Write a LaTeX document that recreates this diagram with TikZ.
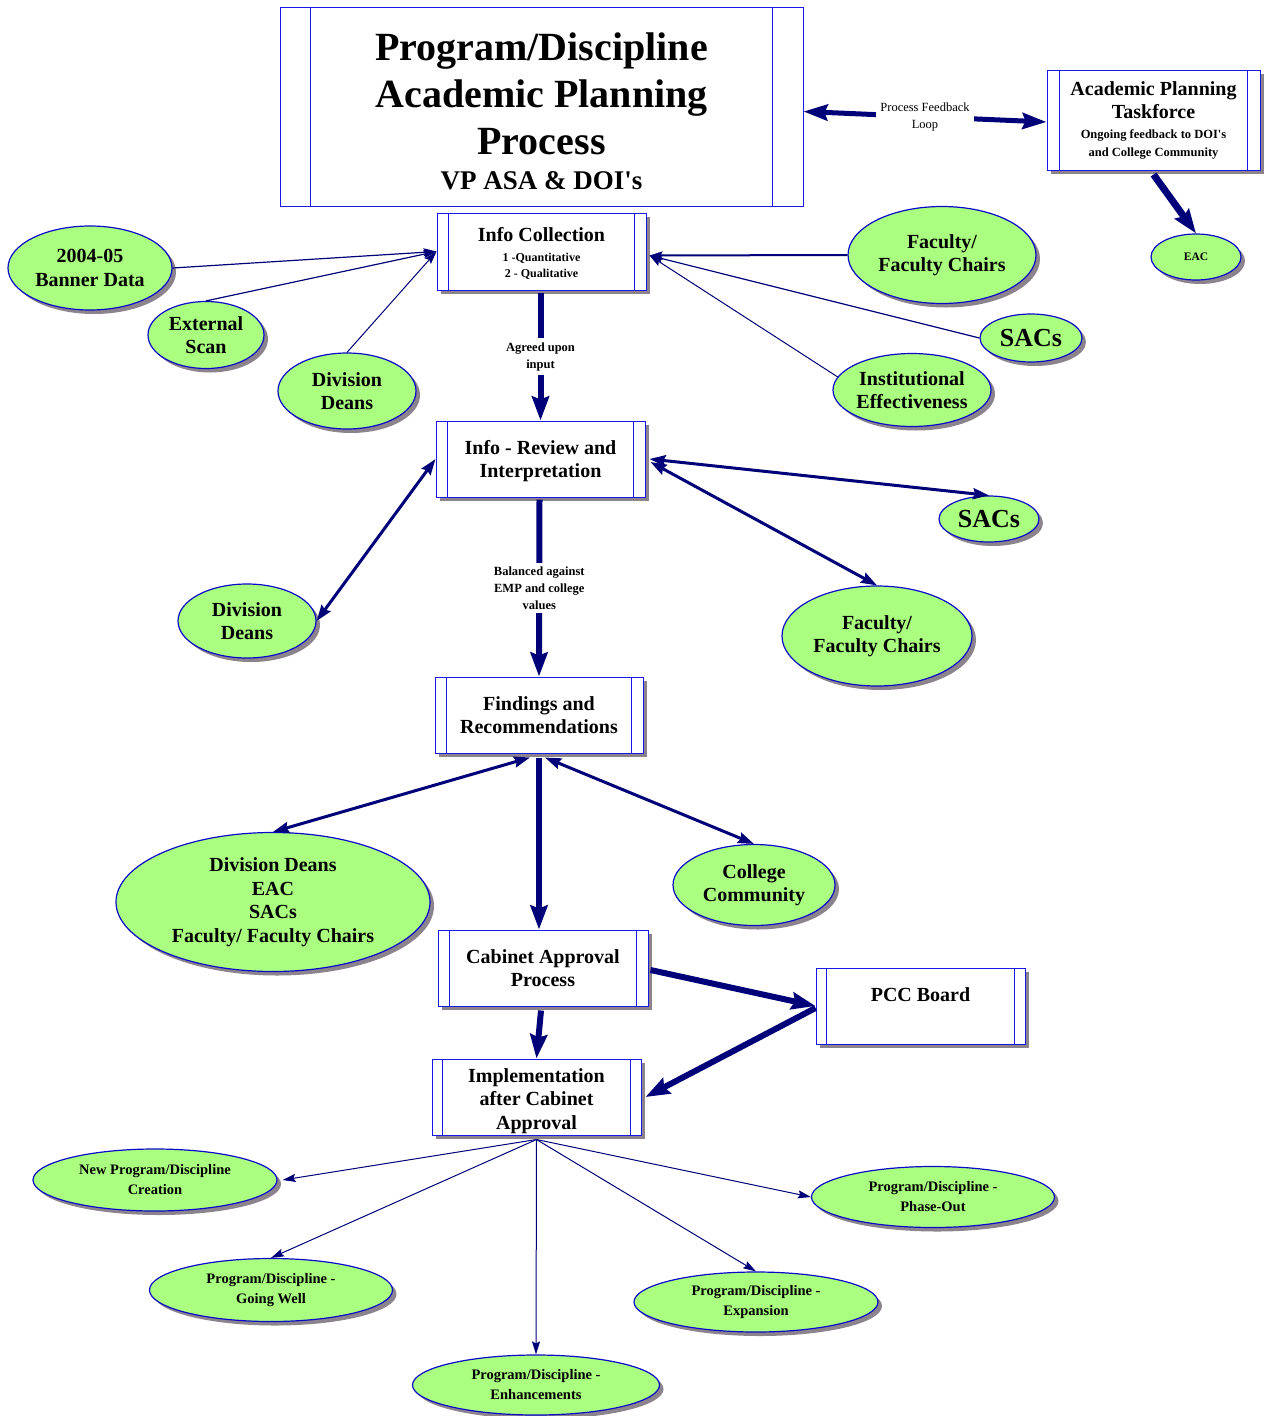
\documentclass[tikz,border=0pt]{standalone}
\usepackage{fontspec}
\setmainfont{Liberation Serif}[Ligatures=TeXOff]
\usetikzlibrary{shapes.geometric,arrows.meta,shadows}
\definecolor{navy}{RGB}{0,0,120}
\definecolor{boxblue}{RGB}{25,25,230}
\definecolor{ellblue}{RGB}{10,10,200}
\definecolor{leaf}{RGB}{170,255,128}
\definecolor{shadowgray}{RGB}{140,132,140}
\newcommand{\procbox}[8]{%
  \node[pbox,#2,minimum width=#5pt,minimum height=#6pt] (#1) at (#3,#4) {#8};
  \draw[pline] ([xshift=#7pt]#1.north west) -- ([xshift=#7pt]#1.south west);
  \draw[pline] ([xshift=-#7pt]#1.north east) -- ([xshift=-#7pt]#1.south east);
}
\tikzset{
  shadowed/.style={drop shadow={shadow xshift=4pt,shadow yshift=-4pt,fill=shadowgray,opacity=1}},
  pbox/.style={rectangle,draw=boxblue,line width=1pt,fill=white,inner sep=0pt,align=center,font=\fontsize{20}{23.5}\selectfont\bfseries},
  pline/.style={draw=boxblue,line width=1pt},
  oval/.style={ellipse,draw=ellblue,line width=1.2pt,fill=leaf,inner sep=0pt,align=center,shadowed},
  f20/.style={font=\fontsize{20}{23.5}\selectfont\bfseries},
  f26/.style={font=\fontsize{26}{30}\selectfont\bfseries},
  f15/.style={font=\fontsize{14.5}{20}\selectfont\bfseries},
  f11/.style={font=\fontsize{11.5}{14}\selectfont\bfseries},
  lab/.style={fill=white,align=center,inner xsep=3pt,inner ysep=4pt,font=\fontsize{12.5}{17}\selectfont\bfseries},
  thickarr/.style={draw=navy,line width=6pt,-{Stealth[length=24pt,width=17pt,inset=3pt]}},
  medarr/.style={draw=navy,line width=3pt,{Stealth[length=16pt,width=11pt,inset=2pt]}-{Stealth[length=16pt,width=11pt,inset=2pt]}},
  thinarr/.style={draw=navy,line width=1.2pt,-{Stealth[length=13pt,width=8pt,inset=2pt]}},
}
\begin{document}
\begin{tikzpicture}[x=1pt,y=-1pt]
\useasboundingbox (0,0) rectangle (1269,1416);
% process boxes
\procbox{title}{font=\fontsize{40}{47}\selectfont\bfseries}{541.5}{106.5}{523}{199}{31}{\rule{0pt}{38pt}Program/Discipline\\Academic Planning\\Process\\[-12pt]{\fontsize{27}{34}\selectfont VP ASA \& DOI's}}
\procbox{taskforce}{shadowed,font=\fontsize{20}{23}\selectfont\bfseries}{1153.5}{120}{213}{100}{13}{Academic Planning\\Taskforce\\[-3pt]{\fontsize{12.5}{18}\selectfont Ongoing feedback to DOI's}\\[-5pt]{\fontsize{12.5}{18}\selectfont and College Community}}
\procbox{infocoll}{shadowed,font=\fontsize{20}{22}\selectfont\bfseries}{541.5}{251.5}{209}{77}{12}{\rule{0pt}{17pt}Info Collection\\[-2pt]{\fontsize{12}{17}\selectfont 1 -Quantitative}\\[-6pt]{\fontsize{12}{17}\selectfont 2 - Qualitative}}
\procbox{review}{shadowed}{540.5}{459}{209}{76}{12}{\rule{0pt}{18pt}Info - Review and\\Interpretation}
\procbox{findings}{shadowed}{539}{715}{208}{76}{12}{Findings and\\Recommendations}
\procbox{cabinet}{shadowed}{543}{968}{210}{76}{12}{Cabinet Approval\\Process}
\procbox{pcc}{shadowed}{920.5}{1006}{209}{76}{11}{PCC Board\rule[-22pt]{0pt}{22pt}}
\procbox{impl}{shadowed}{536.5}{1097}{209}{76}{11}{\rule{0pt}{22pt}Implementation\\after Cabinet\\Approval}
% ellipses
\node[oval,f20,minimum width=164pt,minimum height=84pt] (banner) at (90,268) {2004-05\\Banner Data};
\node[oval,f20,minimum width=116pt,minimum height=67pt] (extscan) at (206,335) {External\\Scan};
\node[oval,f20,minimum width=138pt,minimum height=76pt] (divdeans1) at (347,391) {Division\\Deans};
\node[oval,f20,minimum width=188pt,minimum height=97pt] (faculty1) at (942,255) {Faculty/\\Faculty Chairs};
\node[oval,f26,minimum width=102pt,minimum height=48pt] (sacs1) at (1031,338) {SACs};
\node[oval,f20,minimum width=158pt,minimum height=73pt] (insteff) at (912,390) {Institutional\\Effectiveness};
\node[oval,f11,minimum width=90pt,minimum height=46pt] (eac) at (1196,257) {EAC};
\node[oval,f26,minimum width=100pt,minimum height=46pt] (sacs2) at (989,519) {SACs};
\node[oval,f20,minimum width=138pt,minimum height=74pt] (divdeans2) at (247,621) {Division\\Deans};
\node[oval,f20,minimum width=190pt,minimum height=100pt] (faculty2) at (877,636) {Faculty/\\Faculty Chairs};
\node[oval,f20,minimum width=314pt,minimum height=139pt] (bigell) at (273,902) {Division Deans\\EAC\\SACs\\Faculty/ Faculty Chairs};
\node[oval,f20,minimum width=162pt,minimum height=81pt] (college) at (754,885) {College\\Community};
\node[oval,f15,minimum width=244pt,minimum height=62pt] (newprog) at (155,1180) {New Program/Discipline\\Creation};
\node[oval,f15,minimum width=243pt,minimum height=63pt] (goingwell) at (271,1290) {Program/Discipline -\\Going Well};
\node[oval,f15,minimum width=247pt,minimum height=60pt] (enhance) at (536,1385) {Program/Discipline -\\Enhancements};
\node[oval,f15,minimum width=244pt,minimum height=60pt] (expansion) at (756,1302) {Program/Discipline -\\Expansion};
\node[oval,f15,minimum width=243pt,minimum height=61pt] (phaseout) at (933,1197) {Program/Discipline -\\Phase-Out};
% connectors
\draw[draw=navy,line width=5pt,{Stealth[length=24pt,width=16pt,inset=3pt]}-{Stealth[length=24pt,width=16pt,inset=3pt]}]
  ([yshift=-5pt]title.east) -- node[lab,font=\fontsize{12.5}{17}\selectfont,inner xsep=4pt] {Process Feedback\\Loop} ([yshift=-2pt]taskforce.west);
\draw[thickarr,line width=7pt] ([yshift=-4pt]taskforce.south) -- (eac.north);
\draw[thinarr] (banner.east) -- (infocoll.west);
\draw[thinarr] (extscan.north) -- (infocoll.west);
\draw[thinarr,line width=1pt] (divdeans1.north) -- (infocoll.west);
\coordinate (icR) at ([xshift=3pt,yshift=-4pt]infocoll.east);
\draw[thinarr,line width=2pt] (faculty1.west) -- (icR);
\draw[thinarr] (sacs1.west) -- (icR);
\draw[thinarr,line width=1pt] (insteff.170) -- (icR);
\draw[thickarr] ([xshift=-1pt,yshift=-2pt]infocoll.south) -- node[lab] {Agreed upon\\input} (review.north);
\draw[medarr] (review.west) -- (divdeans2.east);
\draw[medarr] ([xshift=4pt]review.east) -- (sacs2.north);
\draw[medarr] ([xshift=5pt,yshift=-3pt]review.east) -- (faculty2.north);
\draw[thickarr] ([xshift=-1pt,yshift=-2pt]review.south) -- node[lab] {Balanced against\\EMP and college\\values} (findings.north);
\draw[medarr] ([xshift=-9pt,yshift=-4pt]findings.south) -- (bigell.north);
\draw[medarr] ([xshift=6pt,yshift=-4pt]findings.south) -- (college.north);
\draw[thickarr] ([yshift=-4pt]findings.south) -- ([xshift=-4pt]cabinet.north);
\draw[thickarr] ([xshift=2pt,yshift=-2pt]cabinet.east) -- (pcc.west);
\draw[thickarr] ([xshift=-2pt,yshift=-4pt]cabinet.south) -- (impl.north);
\draw[thickarr] ([yshift=-2pt]pcc.west) -- ([xshift=4pt]impl.east);
\coordinate (implS) at ([yshift=-4pt]impl.south);
\draw[thinarr,line width=1pt] (implS) -- ([xshift=5pt]newprog.east);
\draw[thinarr,line width=1pt] (implS) -- (goingwell.north);
\draw[thinarr,line width=1pt] (implS) -- (enhance.north);
\draw[thinarr,line width=1pt] (implS) -- (expansion.north);
\draw[thinarr,line width=1pt] (implS) -- (phaseout.west);
\end{tikzpicture}
\end{document}
